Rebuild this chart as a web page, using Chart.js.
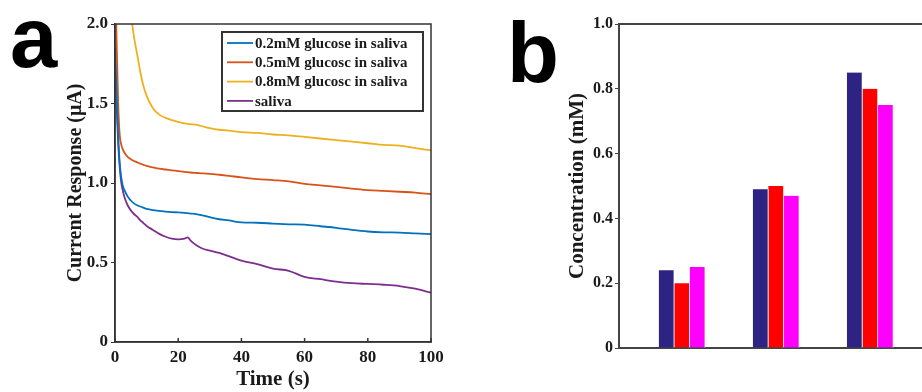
<!DOCTYPE html>
<html>
<head>
<meta charset="utf-8">
<script src="https://cdn.jsdelivr.net/npm/chart.js@4.4.0/dist/chart.umd.min.js"></script>
<style>
  html, body { margin: 0; padding: 0; overflow: hidden; background: #fff; }
  body { width: 922px; height: 392px; position: relative; }
  canvas { position: absolute; top: 0; }
  .tag { position: absolute; font-family: "Liberation Sans", Arial, sans-serif; font-weight: bold;
         font-size: 85px; line-height: 1; color: #000; }
</style>
</head>
<body>
<canvas id="curveChart" style="left:0" width="450" height="392"></canvas>
<canvas id="barChart" style="left:460px" width="560" height="392"></canvas>
<div class="tag" style="left:10px;top:-5px">a</div>
<div class="tag" style="left:507px;top:10px">b</div>
<script>
// panel a: current response vs time
const times = [0, 0.5, 1, 1.5, 2, 2.5, 3, 4, 5, 6, 7, 8, 9, 10, 12, 14, 16, 18, 20, 22, 23, 24, 26, 28, 30,
  33, 36, 40, 45, 50, 55, 60, 65, 70, 75, 80, 85, 90, 95, 100];
const glucose02 = [1.85, 1.55, 1.30, 1.12, 1.03, 0.98, 0.955, 0.915, 0.89, 0.872, 0.86, 0.852, 0.845, 0.838,
  0.83, 0.825, 0.82, 0.817, 0.815, 0.812, 0.81, 0.808, 0.803, 0.795, 0.785, 0.772, 0.765, 0.752, 0.75, 0.745,
  0.74, 0.738, 0.728, 0.718, 0.705, 0.695, 0.69, 0.688, 0.683, 0.678];
const glucose05 = [2.4, 1.9, 1.5, 1.3, 1.24, 1.21, 1.19, 1.165, 1.15, 1.138, 1.13, 1.122, 1.114, 1.107,
  1.098, 1.09, 1.085, 1.08, 1.075, 1.07, 1.068, 1.066, 1.063, 1.06, 1.058, 1.052, 1.045, 1.035, 1.025, 1.018,
  1.01, 0.995, 0.985, 0.975, 0.965, 0.955, 0.95, 0.945, 0.94, 0.93];
const glucose08 = [4.0, 3.7, 3.4, 3.15, 2.95, 2.75, 2.6, 2.3, 2.07, 1.92, 1.81, 1.70, 1.61, 1.55,
  1.47, 1.43, 1.41, 1.395, 1.385, 1.375, 1.372, 1.37, 1.365, 1.355, 1.345, 1.335, 1.33, 1.32, 1.315, 1.305,
  1.30, 1.29, 1.28, 1.27, 1.26, 1.25, 1.24, 1.235, 1.22, 1.205];
const saliva = [1.85, 1.5, 1.25, 1.1, 1.0, 0.95, 0.91, 0.86, 0.828, 0.805, 0.788, 0.765, 0.748, 0.73,
  0.705, 0.68, 0.662, 0.65, 0.646, 0.65, 0.658, 0.636, 0.605, 0.585, 0.575, 0.56, 0.54, 0.512, 0.49, 0.462,
  0.448, 0.41, 0.395, 0.38, 0.37, 0.365, 0.36, 0.352, 0.335, 0.31];
const curveLabels = ["0.2mM glucose in saliva", "0.5mM glucosc in saliva", "0.8mM glucosc in saliva", "saliva"];
const curveColors = ["#0072BD", "#D95319", "#EDB120", "#7E2F8E"];
const currentTicks = [0, 0.5, 1.0, 1.5, 2.0];

// panel b: measured concentration
const barGroups = [1, 2, 3];
const trial1 = [0.24, 0.49, 0.85];
const trial2 = [0.20, 0.50, 0.80];
const trial3 = [0.25, 0.47, 0.75];
const barColors = ["#2d2383", "#ff0000", "#ff00ff"];
const concTicks = [0, 0.2, 0.4, 0.6, 0.8, 1.0];

const serif = "'Liberation Serif', 'Times New Roman', serif";
const ink = "#1a1a1a";

function pairs(xs, ys) {
  return xs.map(function (x, i) { return { x: x, y: ys[i] }; });
}
function tickText(v) {
  return v === 0 ? "0" : v.toFixed(1);
}

// box frame, inward ticks on time axis, legend inside plot
const frameA = {
  id: 'frameA',
  afterDraw: function (chart) {
    const ctx = chart.ctx;
    const area = chart.chartArea;
    ctx.save();
    ctx.strokeStyle = "#333";
    ctx.lineWidth = 1.5;
    ctx.strokeRect(area.left, area.top, area.right - area.left, area.bottom - area.top);
    const xs = chart.scales.x;
    xs.ticks.forEach(function (t) {
      let px = xs.getPixelForValue(t.value);
      ctx.beginPath();
      ctx.moveTo(px, area.bottom);
      ctx.lineTo(px, area.bottom - 4);
      ctx.stroke();
    });

    let bx = area.right - 8, by = area.top + 8;
    let bw = 201, bh = 79;
    ctx.fillStyle = "#fff";
    ctx.fillRect(bx - bw, by, bw, bh);
    ctx.lineWidth = 2;
    ctx.strokeStyle = "#333";
    ctx.strokeRect(bx - bw, by, bw, bh);
    ctx.font = "bold 15px " + serif;
    ctx.textBaseline = "middle";
    ctx.textAlign = "left";
    chart.data.datasets.forEach(function (ds, i) {
      let y = by + 11 + i * 19.3;
      ctx.strokeStyle = ds.borderColor;
      ctx.lineWidth = 1.8;
      ctx.beginPath();
      ctx.moveTo(bx - bw + 5, y);
      ctx.lineTo(bx - bw + 31, y);
      ctx.stroke();
      ctx.fillStyle = ink;
      ctx.fillText(ds.label, bx - bw + 33, y + 1);
    });
    ctx.restore();
  }
};

const topLineB = {
  id: 'topLineB',
  afterDraw: function (chart) {
    const ctx = chart.ctx;
    const area = chart.chartArea;
    ctx.save();
    ctx.strokeStyle = "#444";
    ctx.lineWidth = 2;
    ctx.beginPath();
    ctx.moveTo(area.left, area.top);
    ctx.lineTo(area.right + 30, area.top);
    ctx.stroke();
    ctx.restore();
  }
};

window.addEventListener('load', function () {
  let series = [glucose02, glucose05, glucose08, saliva];
  let context = document.querySelector("#curveChart").getContext('2d');
  new Chart(context, {
    type: 'line',
    data: {
      datasets: series.map(function (ys, i) {
        return {
          label: curveLabels[i],
          data: pairs(times, ys),
          borderColor: curveColors[i],
          borderWidth: 1.8,
          pointRadius: 0,
          cubicInterpolationMode: 'monotone',
          fill: false
        };
      })
    },
    options: {
      responsive: false,
      animation: false,
      devicePixelRatio: 1,
      layout: { padding: { top: 24, right: 19, left: 0, bottom: 0 } },
      plugins: { legend: { display: false }, tooltip: { enabled: false } },
      scales: {
        x: {
          type: 'linear', min: 0, max: 100,
          ticks: { stepSize: 20, color: ink, padding: 5, font: { family: serif, size: 17, weight: 'bold' } },
          grid: { drawOnChartArea: false, drawTicks: false },
          border: { color: "#333", width: 1.5 },
          title: { display: true, text: "Time (s)", color: ink, padding: 0,
                   font: { family: serif, size: 21, weight: 'bold' } },
          afterFit: function (scale) { scale.height = 50; }
        },
        y: {
          min: 0, max: 2,
          afterBuildTicks: function (scale) {
            scale.ticks = currentTicks.map(function (v) { return { value: v }; });
          },
          ticks: { color: ink, padding: 3, font: { family: serif, size: 17, weight: 'bold' }, callback: tickText },
          grid: { drawOnChartArea: false, tickLength: 4, color: "#333" },
          border: { color: "#333", width: 1.5 },
          title: { display: true, text: "Current Response (μA)", color: ink, padding: { top: 64, bottom: 0 },
                   font: { family: serif, size: 20, weight: 'bold' } },
          afterFit: function (scale) { scale.width = 115; }
        }
      }
    },
    plugins: [frameA]
  });
});

window.addEventListener('load', function () {
  let trials = [trial1, trial2, trial3];
  let context = document.querySelector("#barChart").getContext('2d');
  new Chart(context, {
    type: 'bar',
    data: {
      datasets: trials.map(function (ys, i) {
        return {
          label: "trial " + (i + 1),
          data: pairs(barGroups, ys),
          backgroundColor: barColors[i],
          borderColor: "#ffffff",
          borderWidth: { top: 0, right: 1, bottom: 0, left: 0 },
          borderSkipped: false,
          barThickness: 15.5
        };
      })
    },
    options: {
      responsive: false,
      animation: false,
      devicePixelRatio: 1,
      layout: { padding: { top: 24, right: 20, left: 0, bottom: 0 } },
      plugins: { legend: { display: false }, tooltip: { enabled: false } },
      scales: {
        x: {
          type: 'linear', min: 0.33, max: 4.38, offset: false,
          ticks: { display: false },
          grid: { drawOnChartArea: false, drawTicks: false },
          border: { color: "#444", width: 2 },
          afterFit: function (scale) { scale.height = 44; }
        },
        y: {
          min: 0, max: 1,
          afterBuildTicks: function (scale) {
            scale.ticks = concTicks.map(function (v) { return { value: v }; });
          },
          ticks: { color: ink, padding: 2, font: { family: serif, size: 16, weight: 'bold' }, callback: tickText },
          grid: { drawOnChartArea: false, tickLength: 4, color: "#444" },
          border: { color: "#444", width: 2 },
          title: { display: true, text: "Concentration (mM)", color: ink, padding: { top: 105, bottom: 0 },
                   font: { family: serif, size: 21, weight: 'bold' } },
          afterFit: function (scale) { scale.width = 159; }
        }
      }
    },
    plugins: [topLineB]
  });
});
</script>
</body>
</html>
